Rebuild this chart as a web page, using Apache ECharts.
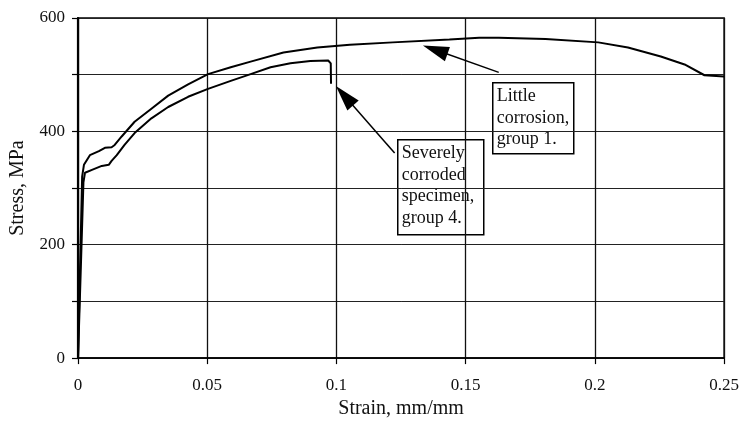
<!DOCTYPE html>
<html>
<head>
<meta charset="utf-8">
<script src="https://cdn.jsdelivr.net/npm/echarts@6/dist/echarts.min.js"></script>
<style>
  html, body { margin: 0; padding: 0; background: #fff; }
  #chart { width: 742px; height: 424px; }
</style>
</head>
<body>
<div id="chart"></div>
<script>
// Stress–strain curves of two reinforcing bar specimens
const strainLittle = [0, 0.0008, 0.0016, 0.0023, 0.0046, 0.0081, 0.0104, 0.0130, 0.0142, 0.0169, 0.0219,
  0.0284, 0.0349, 0.0426, 0.0503, 0.0591, 0.0668, 0.0795, 0.0926, 0.1052, 0.1218, 0.1437, 0.1552,
  0.1628, 0.1809, 0.2013, 0.2128, 0.2255, 0.2347, 0.2424, 0.2500];
const stressLittle = [0, 160, 320, 341, 358, 365, 371, 372, 376, 391, 417,
  440, 463, 483, 501, 513, 523, 539, 548, 553, 557, 562, 565,
  565, 563, 557, 548, 532, 518, 499, 497];

const strainSevere = [0, 0.0011, 0.0021, 0.0027, 0.0054, 0.0092, 0.0119, 0.0130, 0.0150, 0.0180, 0.0219,
  0.0284, 0.0349, 0.0426, 0.0503, 0.0591, 0.0668, 0.0745, 0.0822, 0.0899, 0.0968, 0.0978, 0.0979];
const stressSevere = [0, 160, 310, 327, 332, 339, 341, 348, 358, 376, 397,
  423, 443, 461, 475, 489, 501, 513, 520, 524, 525, 520, 484];

const xTicks = { min: 0, max: 0.25, step: 0.05 };
const yTicks = { min: 0, max: 600, step: 100, labelEvery: 200 };

const noteLittle = 'Little\ncorrosion,\ngroup 1.';
const noteSevere = 'Severely\ncorroded\nspecimen,\ngroup 4.';

// arrow endpoints in data space: [strain, stress] from box to curve
const arrowLittle = [[0.1628, 504], [0.1382, 544]];
const arrowSevere = [[0.1225, 362], [0.1031, 463]];

const pairs = (xs, ys) => xs.map((x, i) => [x, ys[i]]);
const serif = '"Liberation Serif", "Times New Roman", serif';

const chart = echarts.init(document.getElementById('chart'), null, { renderer: 'canvas' });

const arrowLine = (a) => ({
  silent: true,
  symbol: ['none', 'triangle'],
  symbolSize: [15, 26],
  label: { show: false },
  lineStyle: { color: '#000', width: 1.5, type: 'solid' },
  emphasis: { disabled: true },
  data: [[{ coord: a[0] }, { coord: a[1] }]]
});

chart.setOption({
  animation: false,
  backgroundColor: '#fff',
  grid: { left: 76, right: 15, top: 18, bottom: 61, show: true, borderColor: '#000', borderWidth: 1.5 },
  xAxis: {
    type: 'value', min: xTicks.min, max: xTicks.max, interval: xTicks.step,
    name: 'Strain, mm/mm', nameLocation: 'middle', nameGap: 38,
    nameTextStyle: { fontFamily: serif, fontSize: 20, color: '#111' },
    axisLine: { show: true, lineStyle: { color: '#000', width: 1.5 } },
    axisTick: { show: true, length: 6, lineStyle: { color: '#000', width: 1.2 } },
    axisLabel: { fontFamily: serif, fontSize: 17, color: '#111', margin: 19 },
    splitLine: { show: true, lineStyle: { color: '#111', width: 1.3 } }
  },
  yAxis: {
    type: 'value', min: yTicks.min, max: yTicks.max, interval: yTicks.step,
    name: 'Stress, MPa', nameLocation: 'middle', nameGap: 50,
    nameTextStyle: { fontFamily: serif, fontSize: 20, color: '#111' },
    axisLine: { show: true, lineStyle: { color: '#000', width: 2.2 } },
    axisTick: { show: true, length: 6, lineStyle: { color: '#000', width: 1.2 } },
    axisLabel: {
      fontFamily: serif, fontSize: 17, color: '#111', margin: 13,
      formatter: (v) => (v % yTicks.labelEvery === 0 ? String(v) : '')
    },
    splitLine: { show: true, lineStyle: { color: '#222', width: 1 } }
  },
  series: [
    {
      name: 'Little corrosion, group 1', type: 'line', data: pairs(strainLittle, stressLittle),
      showSymbol: false, smooth: false, silent: true,
      lineStyle: { color: '#000', width: 2 },
      markLine: arrowLine(arrowLittle)
    },
    {
      name: 'Severely corroded specimen, group 4', type: 'line', data: pairs(strainSevere, stressSevere),
      showSymbol: false, smooth: false, silent: true,
      lineStyle: { color: '#000', width: 2 },
      markLine: arrowLine(arrowSevere)
    }
  ],
  graphic: [
    {
      type: 'group', left: 492, top: 82, z: 100,
      children: [
        { type: 'rect', shape: { x: 0, y: 0, width: 81, height: 71 },
          style: { fill: '#fff', stroke: '#000', lineWidth: 1.5 } },
        { type: 'text', x: 4, y: 3,
          style: { text: noteLittle, font: '18px ' + serif, fill: '#111', lineHeight: 21.5 } }
      ]
    },
    {
      type: 'group', left: 397, top: 139, z: 100,
      children: [
        { type: 'rect', shape: { x: 0, y: 0, width: 86, height: 95 },
          style: { fill: '#fff', stroke: '#000', lineWidth: 1.5 } },
        { type: 'text', x: 4, y: 3,
          style: { text: noteSevere, font: '18px ' + serif, fill: '#111', lineHeight: 21.5 } }
      ]
    }
  ]
});
</script>
</body>
</html>
